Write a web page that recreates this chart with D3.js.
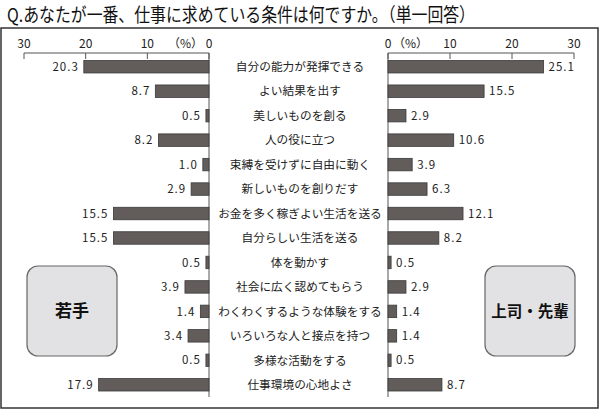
<!DOCTYPE html>
<html lang="ja">
<head>
<meta charset="UTF-8">
<title>仕事に求めている条件</title>
<script src="https://d3js.org/d3.v7.min.js"></script>
<style>
  body { margin: 0; background: #fff; }
  svg { display: block; font-family: "Noto Sans CJK JP", "Noto Sans", sans-serif; }
</style>
</head>
<body>
<script>
const width = 600;
const height = 410;

const categories = [
  "自分の能力が発揮できる", "よい結果を出す", "美しいものを創る", "人の役に立つ",
  "束縛を受けずに自由に動く", "新しいものを創りだす", "お金を多く稼ぎよい生活を送る",
  "自分らしい生活を送る", "体を動かす", "社会に広く認めてもらう",
  "わくわくするような体験をする", "いろいろな人と接点を持つ", "多様な活動をする",
  "仕事環境の心地よさ"
];
const young = [20.3, 8.7, 0.5, 8.2, 1.0, 2.9, 15.5, 15.5, 0.5, 3.9, 1.4, 3.4, 0.5, 17.9];
const senior = [25.1, 15.5, 2.9, 10.6, 3.9, 6.3, 12.1, 8.2, 0.5, 2.9, 1.4, 1.4, 0.5, 8.7];
const ticks = [0, 10, 20, 30];

const svg = d3.select("body").append("svg")
  .attr("width", width)
  .attr("height", height);

// title
svg.append("text")
  .attr("x", 7).attr("y", 22)
  .attr("font-size", 19)
  .attr("textLength", 468)
  .attr("lengthAdjust", "spacingAndGlyphs")
  .attr("fill", "#111")
  .text("Q.あなたが一番、仕事に求めている条件は何ですか。（単一回答）");

// frame
svg.append("rect")
  .attr("x", 1).attr("y", 28)
  .attr("width", 597).attr("height", 380)
  .attr("fill", "none")
  .attr("stroke", "#333")
  .attr("stroke-width", 1.5);

const y = d3.scaleBand()
  .domain(categories)
  .range([54.5, 397])
  .paddingInner(0.49)
  .paddingOuter(0.245);

const xL = d3.scaleLinear().domain([0, 30]).range([209, 24]);
const xR = d3.scaleLinear().domain([0, 30]).range([388, 574]);

const axisY = 53;

// axes
[xL, xR].forEach(x => {
  svg.append("line")
    .attr("x1", x(0)).attr("x2", x(30))
    .attr("y1", axisY).attr("y2", axisY)
    .attr("stroke", "#555");
  svg.selectAll(null)
    .data(ticks)
    .join("line")
    .attr("x1", d => x(d)).attr("x2", d => x(d))
    .attr("y1", axisY).attr("y2", axisY + 6)
    .attr("stroke", "#555");
  svg.append("line")
    .attr("x1", x(0)).attr("x2", x(0))
    .attr("y1", axisY).attr("y2", 397)
    .attr("stroke", "#555");
  svg.selectAll(null)
    .data(ticks)
    .join("text")
    .attr("x", d => x(d))
    .attr("y", 48)
    .attr("text-anchor", "middle")
    .attr("font-size", 12)
    .attr("fill", "#222")
    .text(d => d);
});

svg.append("text")
  .attr("x", 203).attr("y", 48)
  .attr("text-anchor", "end")
  .attr("font-size", 12)
  .attr("fill", "#222")
  .text("（%）");
svg.append("text")
  .attr("x", 393).attr("y", 48)
  .attr("font-size", 12)
  .attr("fill", "#222")
  .text("（%）");

const barFill = "#625d5b";
const barStroke = "#3a3a3a";

// left bars
svg.selectAll(".barL")
  .data(young)
  .join("rect")
  .attr("class", "barL")
  .attr("x", d => xL(d))
  .attr("y", (d, i) => y(categories[i]))
  .attr("width", d => xL(0) - xL(d))
  .attr("height", y.bandwidth())
  .attr("fill", barFill)
  .attr("stroke", barStroke)
  .attr("stroke-width", 0.8);

svg.selectAll(".valL")
  .data(young)
  .join("text")
  .attr("class", "valL")
  .attr("x", d => xL(d) - 5)
  .attr("y", (d, i) => y(categories[i]) + y.bandwidth() / 2)
  .attr("dy", "0.36em")
  .attr("text-anchor", "end")
  .attr("font-size", 11.5)
  .attr("letter-spacing", 1)
  .attr("fill", "#222")
  .text(d => d.toFixed(1));

// right bars
svg.selectAll(".barR")
  .data(senior)
  .join("rect")
  .attr("class", "barR")
  .attr("x", xR(0))
  .attr("y", (d, i) => y(categories[i]))
  .attr("width", d => xR(d) - xR(0))
  .attr("height", y.bandwidth())
  .attr("fill", barFill)
  .attr("stroke", barStroke)
  .attr("stroke-width", 0.8);

svg.selectAll(".valR")
  .data(senior)
  .join("text")
  .attr("class", "valR")
  .attr("x", d => xR(d) + 5)
  .attr("y", (d, i) => y(categories[i]) + y.bandwidth() / 2)
  .attr("dy", "0.36em")
  .attr("font-size", 11.5)
  .attr("letter-spacing", 1)
  .attr("fill", "#222")
  .text(d => d.toFixed(1));

// category labels
svg.selectAll(".cat")
  .data(categories)
  .join("text")
  .attr("class", "cat")
  .attr("x", 300)
  .attr("y", d => y(d) + y.bandwidth() / 2)
  .attr("dy", "0.36em")
  .attr("text-anchor", "middle")
  .attr("font-size", 11.7)
  .attr("fill", "#222")
  .text(d => d);

// group boxes
const boxes = [
  { label: "若手", x: 27 },
  { label: "上司・先輩", x: 485 }
];
boxes.forEach(b => {
  svg.append("rect")
    .attr("x", b.x).attr("y", 266)
    .attr("width", 90).attr("height", 90)
    .attr("rx", 11)
    .attr("fill", "#e2e2e4")
    .attr("stroke", "#666")
    .attr("stroke-width", 1.2);
  svg.append("text")
    .attr("x", b.x + 45).attr("y", 311)
    .attr("dy", "0.36em")
    .attr("text-anchor", "middle")
    .attr("font-size", b.label.length > 2 ? 15.5 : 17)
    .attr("font-weight", "bold")
    .attr("fill", "#111")
    .text(b.label);
});
</script>
</body>
</html>
